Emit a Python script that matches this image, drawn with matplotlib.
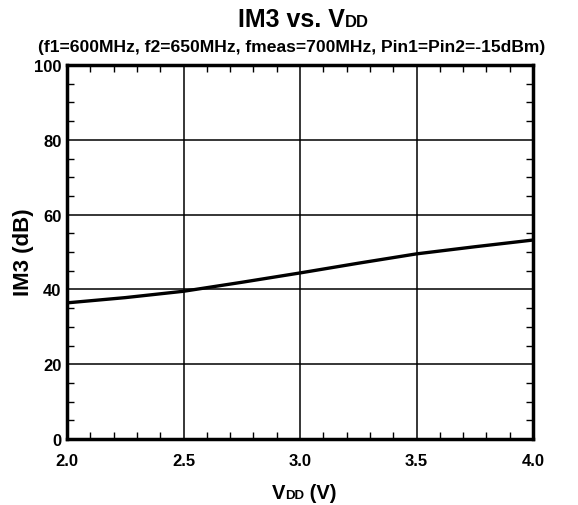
import matplotlib
matplotlib.use("Agg")
import matplotlib.pyplot as plt
from matplotlib.ticker import MultipleLocator, FormatStrFormatter

plt.rcParams['font.family'] = ['Liberation Sans', 'DejaVu Sans']
plt.rcParams['font.weight'] = 'bold'

# data
vdd = [2.0, 2.25, 2.5, 2.75, 3.0, 3.25, 3.5, 3.75, 4.0]
im3 = [36.4, 37.8, 39.5, 41.9, 44.4, 47.0, 49.5, 51.4, 53.2]

title_parts = [("IM3 vs. V", 18), ("DD", 12)]
subtitle = "(f1=600MHz, f2=650MHz, fmeas=700MHz, Pin1=Pin2=-15dBm)"
xlabel_parts = [("V", 14.5), ("DD", 9.5), (" (V)", 14.5)]
ylabel = "IM3 (dB)"

W, H = 578, 506
fig = plt.figure(figsize=(W / 100, H / 100), dpi=100)
ax = fig.add_axes([67 / W, 1 - 440 / H, 466 / W, 374 / H])

ax.plot(vdd, im3, color='black', lw=2.4, solid_capstyle='butt')

ax.set_xlim(2.0, 4.0)
ax.set_ylim(0, 100)
ax.xaxis.set_major_locator(MultipleLocator(0.5))
ax.xaxis.set_minor_locator(MultipleLocator(0.1))
ax.yaxis.set_major_locator(MultipleLocator(20))
ax.yaxis.set_minor_locator(MultipleLocator(5))
ax.xaxis.set_major_formatter(FormatStrFormatter('%.1f'))
ax.grid(True, which='major', color='black', lw=1.1)
ax.tick_params(which='both', direction='in', top=True, right=True, labelsize=12)
ax.tick_params(which='major', length=0, width=1)
ax.tick_params(which='minor', length=5, width=1)
ax.tick_params(axis='x', pad=10)
ax.tick_params(axis='y', pad=4)
for lab in ax.get_xticklabels() + ax.get_yticklabels():
    lab.set_fontweight('bold')
for sp in ax.spines.values():
    sp.set_linewidth(2.5)

fig.text(292 / W, 1 - 52 / H, subtitle, fontsize=12.6, fontweight='bold',
         ha='center', va='baseline')
fig.text(24 / W, 1 - 252 / H, ylabel, fontsize=16, fontweight='bold',
         rotation=90, ha='center', va='center')

renderer = fig.canvas.get_renderer()


def place_parts(parts, xc, ybase):
    # put text pieces side by side on one baseline, centred at xc (pixels)
    texts = [fig.text(0, 1 - ybase / H, s, fontsize=fs, fontweight='bold',
                      va='baseline', ha='left') for s, fs in parts]
    widths = [t.get_window_extent(renderer).width for t in texts]
    x0 = xc - sum(widths) / 2
    for t, w in zip(texts, widths):
        t.set_x(x0 / W)
        x0 += w


place_parts(title_parts, 303, 27)
place_parts(xlabel_parts, 304, 499)

fig.savefig("out.png", dpi=100)
